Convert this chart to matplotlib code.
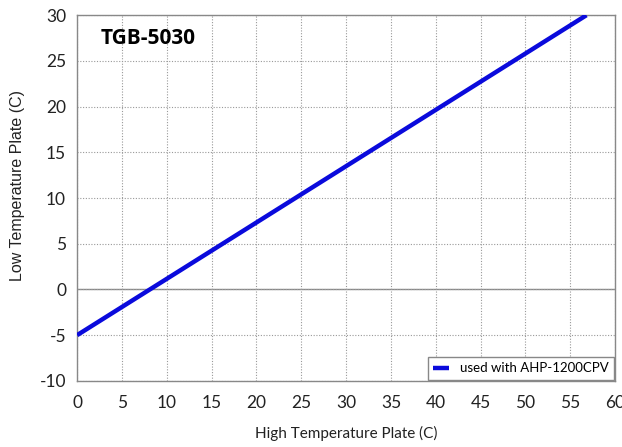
import matplotlib
matplotlib.use("Agg")
import matplotlib.pyplot as plt

x_vals = [0, 56.8]
y_vals = [-5, 30]
series_label = "used with AHP-1200CPV"
title_text = "TGB-5030"
x_ticks = list(range(0, 61, 5))
y_ticks = list(range(-10, 31, 5))

plt.rcParams['font.family'] = ['Lato', 'DejaVu Sans']
plt.rcParams['axes.unicode_minus'] = False

fig = plt.figure(figsize=(6.22, 4.47), dpi=100)
ax = fig.add_axes([0.124, 0.148, 0.865, 0.818])

ax.set_xlim(0, 60)
ax.set_ylim(-10, 30)
ax.set_xticks(x_ticks)
ax.set_yticks(y_ticks)
ax.grid(True, color='#999999', linestyle=(0, (1, 1.5)), linewidth=0.8)
ax.axhline(0, color='#888888', linewidth=1.0, zorder=1)
for s in ax.spines.values():
    s.set_color('#888888')
    s.set_linewidth(1.0)
ax.tick_params(length=0, labelsize=12.5, colors='#222222')
ax.tick_params(axis='x', pad=10)
ax.tick_params(axis='y', pad=8)

ax.plot(x_vals, y_vals, color='#0a0adc', linewidth=3.2, label=series_label, solid_capstyle='butt', zorder=3)

ax.text(2.6, 27.5, title_text, fontsize=15, fontweight='bold', family=['Open Sans', 'DejaVu Sans'], va='center')

ax.set_xlabel("High Temperature Plate (C)", fontsize=11, labelpad=11, color='#222222')
ax.set_ylabel("Low Temperature Plate (C)", fontsize=11.5, color='#222222',
              family=['Liberation Sans', 'DejaVu Sans'])
ax.yaxis.set_label_coords(-0.097, 0.535)

leg = ax.legend(loc='lower right', fontsize=9.5, borderaxespad=0.1, handlelength=1.2,
                fancybox=False, framealpha=1, edgecolor='#888888', borderpad=0.4)
leg.get_frame().set_linewidth(1.0)

fig.savefig("out.png", dpi=100)
